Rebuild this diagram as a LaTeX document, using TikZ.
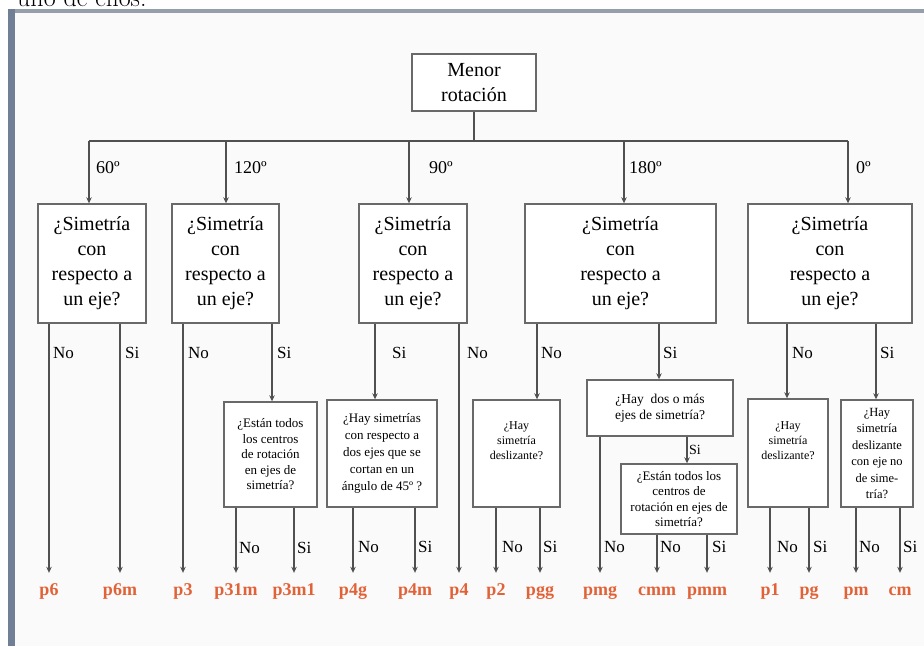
\documentclass[tikz,border=0pt]{standalone}
\usepackage{fontspec}
\newfontfamily\tnr{Liberation Serif}
\usetikzlibrary{arrows.meta}
\definecolor{linec}{RGB}{80,80,80}
\definecolor{boxc}{RGB}{105,105,105}
\definecolor{resc}{RGB}{226,98,56}
\definecolor{barc}{RGB}{112,126,150}
\definecolor{topc}{RGB}{150,158,170}
\begin{document}
\begin{tikzpicture}[x=1pt,y=-1pt,
  line/.style={draw=linec, line width=1.4pt},
  arr/.style={line, -{Stealth[length=6pt,width=5.5pt]}},
  box/.style={draw=boxc, line width=1.4pt, fill=white, align=center, inner sep=0pt, font=\tnr\fontsize{20}{25}\selectfont},
  sbox/.style={box, font=\tnr\fontsize{13}{15.5}\selectfont},
  res/.style={font=\tnr\bfseries\fontsize{18}{18}\selectfont, text=resc, inner sep=1pt, anchor=base, text height=12pt, text depth=4pt},
  lab/.style={font=\tnr\fontsize{17}{17}\selectfont, anchor=west, inner sep=1pt},
  deg/.style={font=\tnr\fontsize{18}{18}\selectfont, anchor=west, inner sep=1pt},
  down/.style={arr, shorten >=9pt}]
\useasboundingbox (0,0) rectangle (924,646);
\clip (0,0) rectangle (924,646);
\fill[white] (0,0) rectangle (924,646);
% cut-off text above the frame
\node[anchor=base west, inner sep=0pt, font=\fontsize{26}{26}\selectfont] (prev) at (17,6.5) {uno de ellos.};
% frame
\fill[white!98!black] (15,13) rectangle (924,646);
\fill[topc] (8,9) rectangle (924,13);
\fill[barc] (8,9) rectangle (15,646);

% root
\node[box, minimum width=124pt, minimum height=57pt] (root) at (474,82.5) {Menor\\rotación};

% first-level boxes
\node[box, minimum width=108pt, minimum height=119pt] (b1) at (92,263.5) {¿Simetría\\con\\respecto a\\un eje?};
\node[box, minimum width=107pt, minimum height=119pt] (b2) at (225.5,263.5) {¿Simetría\\con\\respecto a\\un eje?};
\node[box, minimum width=108pt, minimum height=119pt] (b3) at (413,263.5) {¿Simetría\\con\\respecto a\\un eje?};
\node[box, minimum width=191pt, minimum height=119pt] (b4) at (620.5,263.5) {¿Simetría\\con\\respecto a\\un eje?};
\node[box, minimum width=164pt, minimum height=119pt] (b5) at (830,263.5) {¿Simetría\\con\\respecto a\\un eje?};

% second-level boxes
\node[sbox, minimum width=93pt, minimum height=105pt] (s1) at (270.5,454.5) {¿Están todos\\los centros\\de rotación\\en ejes de\\simetría?};
\node[sbox, minimum width=110pt, minimum height=107pt, font=\tnr\fontsize{13}{17}\selectfont] (s2) at (382,453.5) {¿Hay simetrías\\con respecto a\\dos ejes que se\\cortan en un\\ángulo de 45º ?};
\node[sbox, minimum width=87pt, minimum height=107pt, font=\tnr\fontsize{12}{15}\selectfont] (s3) at (516.5,453.5) {¿Hay\\simetría\\deslizante?\\[10pt]\mbox{}};
\node[sbox, minimum width=146pt, minimum height=56pt, font=\tnr\fontsize{13.5}{16.5}\selectfont] (s4) at (660,408) {¿Hay\ \ dos o más\\ejes de simetría?};
\node[sbox, minimum width=116pt, minimum height=70pt, font=\tnr\fontsize{13}{15.5}\selectfont] (s5) at (679,499) {¿Están todos los\\centros de\\rotación en ejes de\\simetría?};
\node[sbox, minimum width=80pt, minimum height=108pt, font=\tnr\fontsize{12}{15}\selectfont] (s6) at (788,453) {¿Hay\\simetría\\deslizante?\\[10pt]\mbox{}};
\node[sbox, minimum width=72pt, minimum height=107pt, font=\tnr\fontsize{12.5}{16.5}\selectfont] (s7) at (877,453.5) {¿Hay\\simetría\\deslizante\\con eje no\\de sime-\\tría?};

% results
\node[res] (p6)   at (49,595)  {p6};
\node[res] (p6m)  at (120,595) {p6m};
\node[res] (p3)   at (183,595) {p3};
\node[res] (p31m) at (236,595) {p31m};
\node[res] (p3m1) at (294,595) {p3m1};
\node[res] (p4g)  at (353,595) {p4g};
\node[res] (p4m)  at (415,595) {p4m};
\node[res] (p4)   at (459,595) {p4};
\node[res] (p2)   at (496,595) {p2};
\node[res] (pgg)  at (540,595) {pgg};
\node[res] (pmg)  at (600,595) {pmg};
\node[res] (cmm)  at (657,595) {cmm};
\node[res] (pmm)  at (707,595) {pmm};
\node[res] (p1)   at (770,595) {p1};
\node[res] (pg)   at (809,595) {pg};
\node[res] (pm)   at (856,595) {pm};
\node[res] (cm)   at (900,595) {cm};

% top tree
\coordinate (t1) at (89,141);
\coordinate (t2) at (226,141);
\coordinate (t3) at (409,141);
\coordinate (t4) at (624,141);
\coordinate (t5) at (848,141);
\draw[line] (root.south) -- (root.south |- t1);
\draw[line] (t1) -- (t5);
\draw[arr] (t1) -- (t1 |- b1.north);
\draw[arr] (t2) -- (t2 |- b2.north);
\draw[arr] (t3) -- (t3 |- b3.north);
\draw[arr] (t4) -- (t4 |- b4.north);
\draw[arr] (t5) -- (t5 |- b5.north);
\node[deg] at (95,168) {60º};
\node[deg] at (233,168) {120º};
\node[deg] at (428,168) {90º};
\node[deg] at (628,168) {180º};
\node[deg] at (855,168) {0º};

% branches of b1
\draw[down] (b1.south -| p6) -- (p6.north);
\draw[down] (b1.south -| p6m) -- (p6m.north);
\node[lab] at (52,353) {No};
\node[lab] at (124,353) {Si};

% branches of b2
\draw[down] (b2.south -| p3) -- (p3.north);
\coordinate (c2) at (272,0);
\draw[arr] (b2.south -| c2) -- (c2 |- s1.north);
\node[lab] at (187,353) {No};
\node[lab] at (276,353) {Si};
\draw[down] (s1.south -| p31m) -- (p31m.north);
\draw[down] (s1.south -| p3m1) -- (p3m1.north);
\node[lab] at (238,548) {No};
\node[lab] at (296,548) {Si};

% branches of b3
\coordinate (c3) at (375,0);
\draw[arr] (b3.south -| c3) -- (c3 |- s2.north);
\draw[down] (b3.south -| p4) -- (p4.north);
\node[lab] at (391,353) {Si};
\node[lab] at (466,353) {No};
\draw[down] (s2.south -| p4g) -- (p4g.north);
\draw[down] (s2.south -| p4m) -- (p4m.north);
\node[lab] at (357,547) {No};
\node[lab] at (417,547) {Si};

% branches of b4
\coordinate (c4a) at (537,0);
\coordinate (c4b) at (659,0);
\draw[arr] (b4.south -| c4a) -- (c4a |- s3.north);
\draw[arr] (b4.south -| c4b) -- (c4b |- s4.north);
\node[lab] at (540,353) {No};
\node[lab] at (662,353) {Si};
\draw[down] (s3.south -| p2) -- (p2.north);
\draw[down] (s3.south -| pgg) -- (pgg.north);
\node[lab] at (501,547) {No};
\node[lab] at (542,547) {Si};
\coordinate (c5) at (687,0);
\draw[down] (s4.south -| pmg) -- (pmg.north);
\draw[arr] (s4.south -| c5) -- (c5 |- s5.north);
\node[lab] at (603,547) {No};
\node[lab, font=\tnr\fontsize{14}{14}\selectfont] at (688,450) {Si};
\draw[down] (s5.south -| cmm) -- (cmm.north);
\draw[down] (s5.south -| pmm) -- (pmm.north);
\node[lab] at (659,547) {No};
\node[lab] at (711,547) {Si};

% branches of b5
\coordinate (c6) at (787,0);
\coordinate (c7) at (876,0);
\draw[arr] (b5.south -| c6) -- (c6 |- s6.north);
\draw[arr] (b5.south -| c7) -- (c7 |- s7.north);
\node[lab] at (791,353) {No};
\node[lab] at (879,353) {Si};
\draw[down] (s6.south -| p1) -- (p1.north);
\draw[down] (s6.south -| pg) -- (pg.north);
\node[lab] at (776,547) {No};
\node[lab] at (812,547) {Si};
\draw[down] (s7.south -| pm) -- (pm.north);
\draw[down] (s7.south -| cm) -- (cm.north);
\node[lab] at (858,547) {No};
\node[lab] at (902,547) {Si};
\end{tikzpicture}
\end{document}
